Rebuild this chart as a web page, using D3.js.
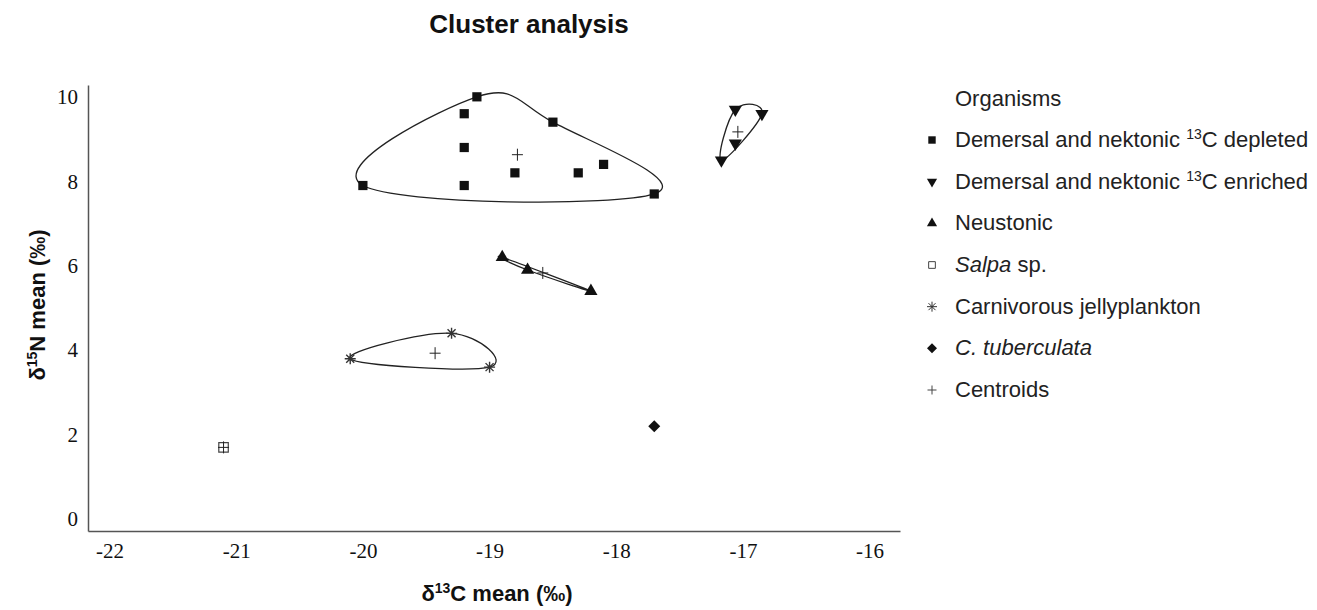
<!DOCTYPE html>
<meta charset="utf-8">
<style>
body { margin: 0; background: #fff; }
.tick text { font-family: "Liberation Serif", "Times New Roman", serif; font-size: 21px; fill: #111; }
.legend text { font-family: "Liberation Sans", Arial, sans-serif; font-size: 22px; fill: #222; }
.axis-title { font-family: "Liberation Sans", Arial, sans-serif; font-size: 22px; font-weight: bold; fill: #111; }
</style>
<svg width="1317" height="610"></svg>
<script src="https://d3js.org/d3.v7.min.js"></script>
<script>

// values (d13C, d15N)
var depletedC = [-20.0, -19.1, -19.2, -19.2, -19.2, -18.8, -18.5, -18.3, -18.1, -17.7],
    depletedN = [7.9, 10.0, 9.6, 8.8, 7.9, 8.2, 9.4, 8.2, 8.4, 7.7];
var enrichedC = [-17.06, -16.85, -17.06, -17.17],
    enrichedN = [9.7, 9.6, 8.9, 8.5];
var neustonC = [-18.9, -18.7, -18.2],
    neustonN = [6.2, 5.9, 5.4];
var salpaC = [-21.1], salpaN = [1.7];
var jellyC = [-20.1, -19.3, -19.0],
    jellyN = [3.8, 4.4, 3.6];
var ctubC = [-17.7], ctubN = [2.2];
var centroidC = [-18.78, -17.04, -18.58, -21.1, -19.43],
    centroidN = [8.63, 9.17, 5.83, 1.7, 3.93];

var xTicks = [-22, -21, -20, -19, -18, -17, -16],
    yTicks = [0, 2, 4, 6, 8, 10];

var legendLabels = ["Demersal and nektonic |13|C depleted", "Demersal and nektonic |13|C enriched",
  "Neustonic", "*Salpa* sp.", "Carnivorous jellyplankton", "*C. tuberculata*", "Centroids"];

var svg = d3.select("svg");

var x = d3.scaleLinear().domain([-22.17, -15.76]).range([88, 900]);
var y = d3.scaleLinear().domain([-0.28, 10.28]).range([531, 85]);

function pts(cs, ns) { return cs.map(function(c, i) { return [x(c), y(ns[i])]; }); }

// title
svg.append("text")
    .attr("x", 529).attr("y", 33)
    .style("font-family", "Liberation Sans, Arial, sans-serif")
    .style("font-size", "26px").style("font-weight", "bold").style("fill", "#111")
    .attr("text-anchor", "middle")
    .text("Cluster analysis");

// axes
svg.append("g")
    .attr("transform", "translate(0,531)")
    .call(d3.axisBottom(x).tickValues(xTicks).tickSize(0).tickPadding(12).tickFormat(function(d) { return String(d); }))
    .call(function(g) { g.select(".domain").attr("stroke", "#555").attr("stroke-width", 1.5); });

svg.append("g")
    .attr("transform", "translate(88,0)")
    .call(d3.axisLeft(y).tickValues(yTicks).tickSize(0).tickPadding(10))
    .call(function(g) { g.select(".domain").attr("stroke", "#555").attr("stroke-width", 1.5); });

function titled(t, a, sup, b) {
  t.append("tspan").text(a);
  t.append("tspan").attr("baseline-shift", "super").style("font-size", "14px").text(sup);
  t.append("tspan").text(b);
}

titled(svg.append("text").attr("class", "axis-title")
    .attr("x", 497).attr("y", 601).attr("text-anchor", "middle"), "δ", "13", "C mean (‰)");

titled(svg.append("text").attr("class", "axis-title")
    .attr("transform", "translate(45,305) rotate(-90)").attr("text-anchor", "middle"), "δ", "15", "N mean (‰)");

// cluster outlines from the convex hull of each group
var outline = d3.line().curve(d3.curveCardinalClosed.tension(-0.2));
[[depletedC, depletedN], [enrichedC, enrichedN], [neustonC, neustonN], [jellyC, jellyN]].forEach(function(g) {
  var hull = d3.polygonHull(pts(g[0], g[1]));
  svg.append("path")
      .attr("d", outline(hull))
      .attr("fill", "none").attr("stroke", "#222").attr("stroke-width", 1.3);
});

// symbols
var sym = {
  square: d3.symbol().type(d3.symbolSquare).size(85)(),
  tri: d3.symbol().type(d3.symbolTriangle).size(75)(),
  diamond: "M0,-6L6,0L0,6L-6,0Z",
  open: d3.symbol().type(d3.symbolSquare).size(90)(),
  star: "M-5.5,0H5.5M0,-5.5V5.5M-4,-4L4,4M-4,4L4,-4",
  plus: "M-5.5,0H5.5M0,-6V6"
};

function draw(cs, ns, path, style, rot) {
  svg.append("g").selectAll("path")
    .data(pts(cs, ns)).join("path")
      .attr("transform", function(d) { return "translate(" + d + ")" + (rot ? " rotate(" + rot + ")" : ""); })
      .attr("d", path)
      .attr("fill", style.fill).attr("stroke", style.stroke).attr("stroke-width", style.sw || 1);
}

draw(depletedC, depletedN, sym.square, { fill: "#111", stroke: "none" });
draw(enrichedC, enrichedN, sym.tri, { fill: "#111", stroke: "none" }, 180);
draw(neustonC, neustonN, sym.tri, { fill: "#111", stroke: "none" });
draw(salpaC, salpaN, sym.open, { fill: "#fff", stroke: "#444", sw: 1.2 });
draw(jellyC, jellyN, sym.star, { fill: "none", stroke: "#333", sw: 1.4 });
draw(ctubC, ctubN, sym.diamond, { fill: "#111", stroke: "none" });
draw(centroidC, centroidN, sym.plus, { fill: "none", stroke: "#222", sw: 1 });

// legend
var legend = svg.append("g").attr("class", "legend");
legend.append("text").attr("x", 955).attr("y", 106).text("Organisms");

var legSyms = [
  { d: d3.symbol().type(d3.symbolSquare).size(55)(), fill: "#111", stroke: "none" },
  { d: d3.symbol().type(d3.symbolTriangle).size(45)(), fill: "#111", stroke: "none", rot: 180 },
  { d: d3.symbol().type(d3.symbolTriangle).size(45)(), fill: "#111", stroke: "none" },
  { d: d3.symbol().type(d3.symbolSquare).size(45)(), fill: "#fff", stroke: "#444" },
  { d: "M-5,0H5M0,-5V5M-3.5,-3.5L3.5,3.5M-3.5,3.5L3.5,-3.5", fill: "none", stroke: "#333" },
  { d: "M0,-5L5,0L0,5L-5,0Z", fill: "#111", stroke: "none" },
  { d: "M-4.5,0H4.5M0,-4.5V4.5", fill: "none", stroke: "#444" }
];

var ly = d3.scalePoint().domain(d3.range(legendLabels.length)).range([139, 389]);

legendLabels.forEach(function(lab, i) {
  var s = legSyms[i];
  legend.append("path")
      .attr("transform", "translate(932," + (ly(i) + 1) + ")" + (s.rot ? " rotate(" + s.rot + ")" : ""))
      .attr("d", s.d).attr("fill", s.fill).attr("stroke", s.stroke);
  var t = legend.append("text").attr("x", 955).attr("y", ly(i) + 8);
  // |..| marks a superscript, *..* marks italics
  lab.split(/(\|[^|]+\||\*[^*]+\*)/).filter(Boolean).forEach(function(part) {
    if (part[0] === "|") {
      t.append("tspan").attr("baseline-shift", "super").style("font-size", "14px").text(part.slice(1, -1));
    } else if (part[0] === "*") {
      t.append("tspan").style("font-style", "italic").text(part.slice(1, -1));
    } else {
      t.append("tspan").text(part);
    }
  });
});

</script>
